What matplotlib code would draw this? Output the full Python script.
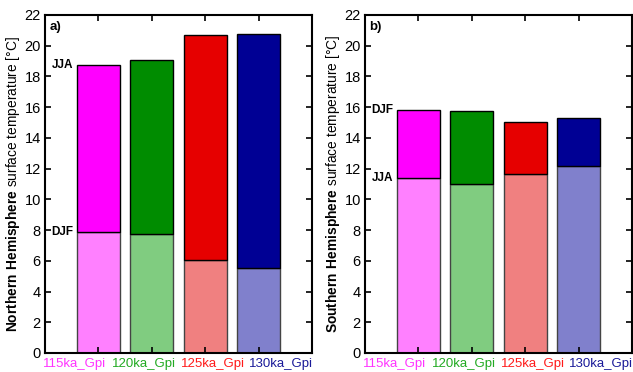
import matplotlib
matplotlib.use("Agg")
from matplotlib import pyplot as plt

plt.rcParams['font.family'] = ['Liberation Sans', 'DejaVu Sans']
plt.rcParams['mathtext.fontset'] = 'custom'
plt.rcParams['mathtext.rm'] = 'Liberation Sans'
plt.rcParams['mathtext.bf'] = 'Liberation Sans:bold'

runs = ["115ka_Gpi", "120ka_Gpi", "125ka_Gpi", "130ka_Gpi"]
label_colors = ["#ff33ff", "#22aa22", "#ff1a1a", "#1a1a99"]
dark_colors = ["#ff00ff", "#008c00", "#e60000", "#000094"]
light_colors = ["#ff80ff", "#80cc80", "#f08080", "#8080cc"]

nh_jja = [18.75, 19.08, 20.72, 20.79]
nh_djf = [7.88, 7.75, 6.06, 5.52]
sh_djf = [15.82, 15.76, 15.05, 15.28]
sh_jja = [11.40, 11.01, 11.66, 12.18]

fig = plt.figure(figsize=(6.33, 3.72), dpi=100)
W, H = 633, 372


def panel(left, low, high, low_name, high_name, tag, hemi):
    ax = fig.add_axes([left / W, 19 / H, 267 / W, 338 / H])
    x = [1, 2, 3, 4]
    ax.bar(x, low, width=0.8, color=light_colors, edgecolor="#444444", linewidth=1)
    ax.bar(x, [h - l for h, l in zip(high, low)], bottom=low, width=0.8,
           color=dark_colors, edgecolor="black", linewidth=1)
    ax.set_xlim(0, 5)
    ax.set_ylim(0, 22)
    ax.set_yticks(range(0, 23, 2))
    ax.set_xticks(x)
    ax.set_xticklabels([])
    ax.tick_params(direction="in", top=True, right=True, length=4, width=1.2,
                   labelsize=10.5, pad=3)
    for s in ax.spines.values():
        s.set_linewidth(1.5)
    ax.text(0.08, 21.2, tag, fontsize=9.5, fontweight="bold", ha="left", va="center")
    ax.text(0.53, high[0], high_name, fontsize=8.5, fontweight="bold", ha="right", va="center")
    ax.text(0.53, low[0], low_name, fontsize=8.5, fontweight="bold", ha="right", va="center")
    ax.set_ylabel(r"$\bf{%s\ Hemisphere}$ surface temperature [°C]" % hemi,
                  fontsize=9.9, labelpad=2)
    starts = [-0.008, 0.25, 0.51, 0.765]
    for s, name, c in zip(starts, runs, label_colors):
        ax.text(s, -0.016, name, color=c, fontsize=9.5, ha="left", va="top",
                transform=ax.transAxes)
    return ax


panel(45, nh_djf, nh_jja, "DJF", "JJA", "a)", "Northern")
panel(365, sh_jja, sh_djf, "JJA", "DJF", "b)", "Southern")

fig.savefig("out.png", dpi=100)
